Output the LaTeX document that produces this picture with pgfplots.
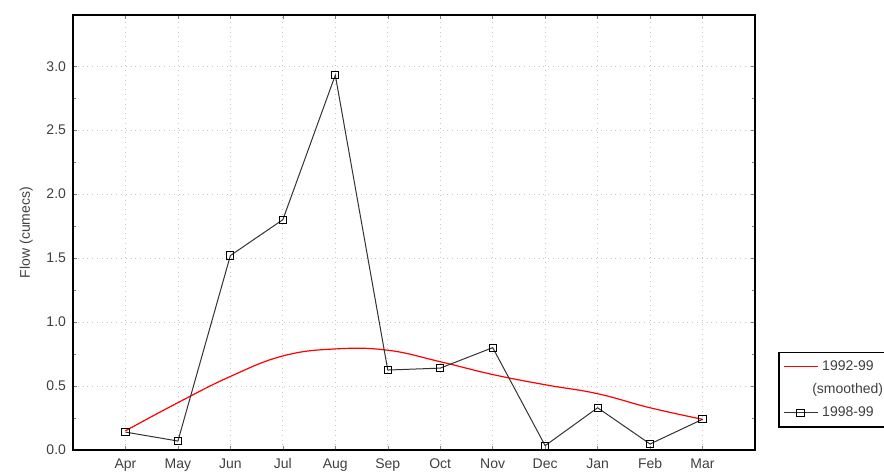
\documentclass[border=0pt]{standalone}
\usepackage{pgfplots}
\pgfplotsset{compat=1.18}
\usepackage{fontspec}
\setmainfont{Liberation Sans}
\begin{document}
\begin{tikzpicture}
\begin{axis}[
  scale only axis,
  width=341pt, height=217.5pt,
  at={(0,0)}, anchor=south west,
  xmin=-1, xmax=12, ymin=0, ymax=3.4,
  xtick={0,...,11},
  xticklabels={Apr,May,Jun,Jul,Aug,Sep,Oct,Nov,Dec,Jan,Feb,Mar},
  ytick={0,0.5,...,3.0},
  minor y tick num=1,
  yticklabel style={/pgf/number format/.cd,fixed,fixed zerofill,precision=1,assume math mode=true},
  xticklabel style={text height=5.5pt, text depth=1pt},
  tick label style={font=\fontsize{7}{8}\selectfont, text=black!75},
  ylabel={Flow (cumecs)},
  ylabel style={font=\fontsize{7}{8}\selectfont, text=black!75},
  ylabel shift=0pt,
  tick align=inside,
  major tick length=2pt, minor tick length=1.5pt,
  grid=major,
  major grid style={gray!45, dotted},
  axis line style={line width=0.9pt},
  legend style={at={(1,0)}, anchor=south west, xshift=11.5pt, yshift=11pt,
    draw=black, line width=0.9pt, font=\fontsize{7}{8}\selectfont,
    row sep=1pt, inner sep=2pt, text=black!75},
  legend cell align=left,
]
\addplot[red, line width=0.6pt, smooth, tension=0.7, mark=none] coordinates {
 (0,0.15) (1,0.37) (2,0.575) (3,0.735) (4,0.79) (5,0.78) (6,0.69) (7,0.59) (8,0.51) (9,0.44) (10,0.33) (11,0.24)
};
\addlegendentry{1992-99}
\addlegendimage{empty legend}
\addlegendentry{\hspace{-5pt}(smoothed)}
\addplot[black!80, line width=0.5pt, mark=square, mark size=1.8pt, mark options={solid, fill=white, black}] coordinates {
 (0,0.14) (1,0.07) (2,1.52) (3,1.80) (4,2.93) (5,0.625) (6,0.64) (7,0.80) (8,0.034) (9,0.33) (10,0.047) (11,0.24)
};
\addlegendentry{1998-99}
\end{axis}
\pgfresetboundingbox
\useasboundingbox (-36.5pt,-11pt) rectangle (405.5pt,225pt);
\end{tikzpicture}
\end{document}
